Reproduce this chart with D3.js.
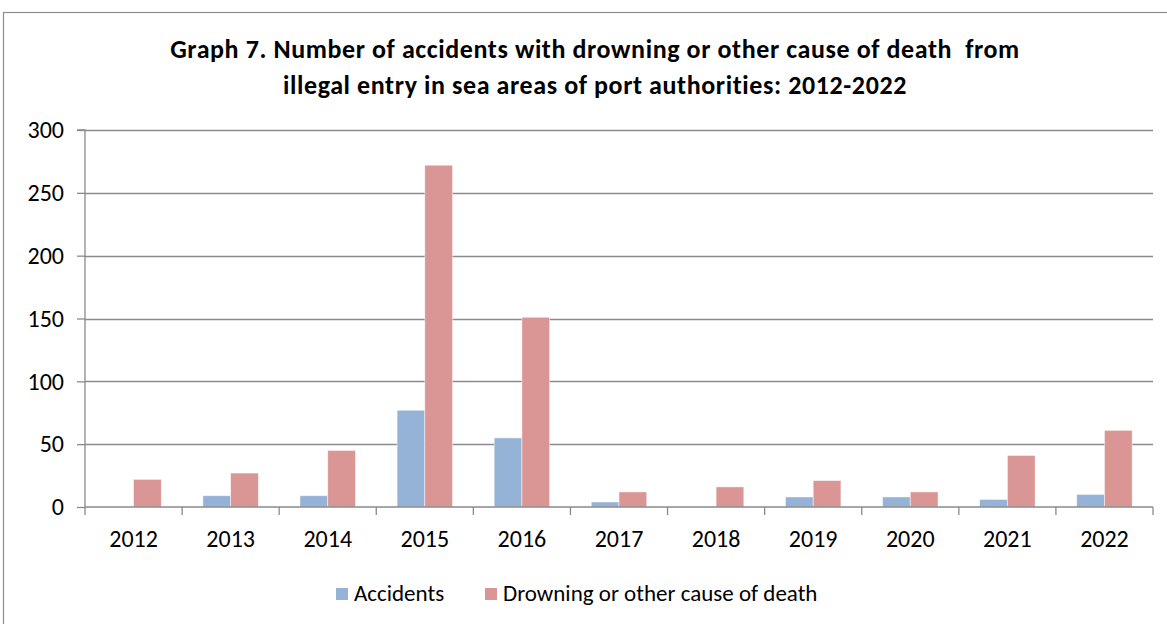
<!DOCTYPE html>
<html><head><meta charset="utf-8">
<script src="https://cdn.jsdelivr.net/npm/d3@7"></script>
<style>body{margin:0;background:#fff}svg{display:block}text{font-family:Carlito,Calibri,Lato,"Open Sans",sans-serif}</style>
</head><body><svg id="c" width="1167" height="624"></svg>
<script>
const years = ["2012","2013","2014","2015","2016","2017","2018","2019","2020","2021","2022"];
const accidents = [0,9,9,77,55,4,0,8,8,6,10];
const drowning = [22,27,45,272,151,12,16,21,12,41,61];
const seriesNames = ["Accidents","Drowning or other cause of death"];
const colors = ["#95B3D7","#D99694"];
const yTicks = [0,50,100,150,200,250,300];
const titleLines = ["Graph 7. Number of accidents with drowning or other cause of death  from","illegal entry in sea areas of port authorities: 2012-2022"];

const svg = d3.select("#c");
const W=1167,H=624;
const FF = "Carlito,Calibri,Lato,'Open Sans',sans-serif";
// outer frame
svg.append("rect").attr("x",3.5).attr("y",12.5).attr("width",W+10).attr("height",H+10)
  .attr("fill","#fff").attr("stroke","#8c8c8c").attr("stroke-width",1.2);

const L=85,R=1153,T=130,B=507;
const x = d3.scaleBand().domain(years).range([L,R]).paddingInner(0).paddingOuter(0);
const y = d3.scaleLinear().domain([0,300]).range([B,T]);

// gridlines
svg.append("g").selectAll("line").data(yTicks.filter(d=>d>0)).join("line")
  .attr("x1",L).attr("x2",R).attr("y1",d=>Math.round(y(d))+0.5).attr("y2",d=>Math.round(y(d))+0.5)
  .attr("stroke","#8a8a8a").attr("stroke-width",1.3);

// bars
const bw = x.bandwidth()/3.5;
const data = years.map((yr,i)=>({yr,vals:[accidents[i],drowning[i]]}));
const g = svg.append("g");
data.forEach(d=>{
  d.vals.forEach((v,j)=>{
    g.append("rect").attr("x",x(d.yr)+0.75*bw+j*bw).attr("y",y(v)).attr("width",bw).attr("height",B-y(v))
      .attr("fill",colors[j]).attr("stroke","#fff").attr("stroke-opacity",0.6).attr("stroke-width",0.8);
  });
});

// y axis
const ya = d3.axisLeft(y).tickValues(yTicks).tickSize(8).tickPadding(13);
const yg = svg.append("g").attr("transform",`translate(${L},0)`).call(ya);
yg.select(".domain").attr("stroke","#8a8a8a").attr("stroke-width",1.3).attr("d",`M-8,${T}H0V${B}`);
yg.selectAll(".tick line").attr("stroke","#8a8a8a").attr("stroke-width",1.3);
yg.selectAll("text").attr("font-size",24).attr("fill","#000").style("font-family",FF);

// x axis
const xa = d3.axisBottom(x).tickSize(0).tickPadding(23);
const xg = svg.append("g").attr("transform",`translate(0,${B})`).call(xa);
xg.select(".domain").attr("stroke","#8a8a8a").attr("stroke-width",1.3).attr("d",`M${L},0H${R}`);
xg.selectAll("text").attr("font-size",24).attr("fill","#000").style("font-family",FF);
// category boundary ticks
svg.append("g").selectAll("line").data(years.map(d=>x(d)).concat([R])).join("line")
  .attr("x1",d=>d).attr("x2",d=>d).attr("y1",B).attr("y2",B+8).attr("stroke","#8a8a8a").attr("stroke-width",1.3);

// title
svg.append("g").selectAll("text").data(titleLines).join("text")
  .attr("x",595).attr("y",(d,i)=>58+i*36).attr("text-anchor","middle")
  .style("white-space","pre").attr("letter-spacing",0.6)
  .attr("font-size",26).attr("font-weight","bold").attr("fill","#000").text(d=>d);

// legend
const lg = svg.append("g");
const legX=[336,485];
seriesNames.forEach((n,i)=>{
  lg.append("rect").attr("x",legX[i]).attr("y",588).attr("width",12).attr("height",12).attr("fill",colors[i]);
  lg.append("text").attr("x",legX[i]+18).attr("y",601).attr("font-size",23).attr("fill","#000").text(n);
});
</script></body></html>
